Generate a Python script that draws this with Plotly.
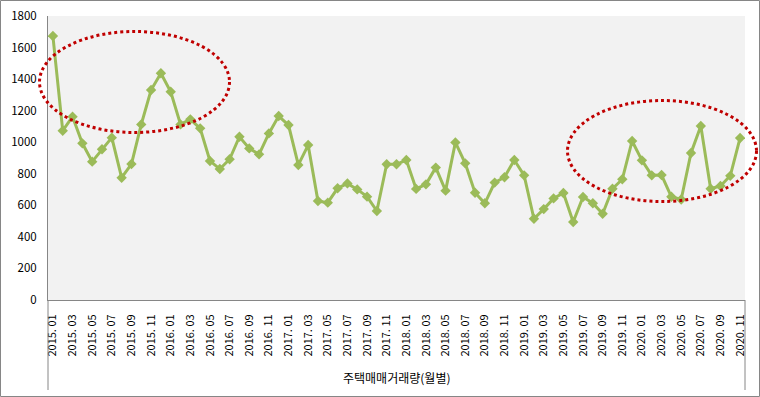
import plotly.graph_objects as go

# ---- data ----
months = [
    "2015. 01", "2015. 02", "2015. 03", "2015. 04", "2015. 05", "2015. 06", "2015. 07", "2015. 08", "2015. 09", "2015. 10", "2015. 11", "2015. 12",
    "2016. 01", "2016. 02", "2016. 03", "2016. 04", "2016. 05", "2016. 06", "2016. 07", "2016. 08", "2016. 09", "2016. 10", "2016. 11", "2016. 12",
    "2017. 01", "2017. 02", "2017. 03", "2017. 04", "2017. 05", "2017. 06", "2017. 07", "2017. 08", "2017. 09", "2017. 10", "2017. 11", "2017. 12",
    "2018. 01", "2018. 02", "2018. 03", "2018. 04", "2018. 05", "2018. 06", "2018. 07", "2018. 08", "2018. 09", "2018. 10", "2018. 11", "2018. 12",
    "2019. 01", "2019. 02", "2019. 03", "2019. 04", "2019. 05", "2019. 06", "2019. 07", "2019. 08", "2019. 09", "2019. 10", "2019. 11", "2019. 12",
    "2020. 01", "2020. 02", "2020. 03", "2020. 04", "2020. 05", "2020. 06", "2020. 07", "2020. 08", "2020. 09", "2020. 10", "2020. 11",
]
volume = [
    1673, 1073, 1162, 993, 877, 955, 1029, 775, 862, 1113, 1331, 1437,
    1320, 1113, 1145, 1088, 881, 830, 892, 1035, 961, 923, 1056, 1166,
    1109, 856, 982, 627, 617, 708, 739, 701, 655, 564, 860, 860,
    887, 704, 733, 839, 693, 999, 866, 680, 613, 744, 778, 887,
    790, 515, 576, 644, 678, 494, 653, 613, 547, 705, 765, 1008,
    885, 790, 792, 654, 637, 932, 1103, 705, 723, 787, 1027,
]
tick_labels = months[::2]
y_ticks = [0, 200, 400, 600, 800, 1000, 1200, 1400, 1600, 1800]
axis_title = "주택매매거래량(월별)"

FONT = "Noto Sans CJK KR, Liberation Sans, sans-serif"
GRAY = "#868686"

fig = go.Figure()
fig.add_trace(go.Scatter(
    x=months, y=volume, mode="lines+markers",
    line=dict(color="#9bbb59", width=3),
    marker=dict(symbol="diamond", size=8, color="#9bbb59"),
    showlegend=False,
))

# pixel layout helpers
W, H = 760, 397
L, R, T, B = 48, 745, 16, 300
pw, ph = R - L, B - T


def px(xp):
    return (xp - L) / pw


def py(yp):
    return (B - yp) / ph


shapes = [
    # outer chart border
    dict(type="rect", xref="paper", yref="paper", x0=px(0.5), x1=px(759.5), y0=py(396.5), y1=py(0.5),
         line=dict(color=GRAY, width=1), layer="below"),
    # category axis box lines extending below plot
    dict(type="line", xref="paper", yref="paper", x0=0, x1=0, y0=0, y1=py(390),
         line=dict(color=GRAY, width=1)),
    dict(type="line", xref="paper", yref="paper", x0=1, x1=1, y0=0, y1=py(390),
         line=dict(color=GRAY, width=1)),
    # highlight ellipses
    dict(type="circle", xref="paper", yref="paper", x0=px(39.5), x1=px(229.5), y0=py(132.5), y1=py(31.5),
         line=dict(color="#c00000", width=3, dash="dot")),
    dict(type="circle", xref="paper", yref="paper", x0=px(567.5), x1=px(756.5), y0=py(201.5), y1=py(100.5),
         line=dict(color="#c00000", width=3, dash="dot")),
]

fig.update_layout(
    width=W, height=H,
    margin=dict(l=L, r=W - R, t=T, b=H - B, pad=0, autoexpand=False),
    paper_bgcolor="white", plot_bgcolor="#f2f2f2",
    font=dict(family=FONT, size=11, color="black"),
    shapes=shapes,
    annotations=[dict(text=axis_title, xref="paper", yref="paper", x=0.5, y=py(377),
                      xanchor="center", yanchor="middle", showarrow=False,
                      font=dict(family=FONT, size=12, color="black"))],
    xaxis=dict(type="category", range=[-0.5, len(months) - 0.5], showgrid=False, zeroline=False,
               showline=True, linecolor=GRAY, linewidth=1, ticks="", automargin=False,
               tickmode="array", tickvals=tick_labels, ticktext=tick_labels,
               tickangle=-90, tickfont=dict(family=FONT, size=11), ticklabelstandoff=9),
    yaxis=dict(range=[0, 1800], tickvals=y_ticks, showgrid=False, zeroline=False,
               showline=True, linecolor=GRAY, linewidth=1, ticks="", automargin=False,
               tickfont=dict(family=FONT, size=11.5), ticklabelstandoff=8),
)

fig.write_html("out.html", config={"displayModeBar": False},
               post_script="document.body.style.margin='0';document.body.style.overflow='hidden';")
